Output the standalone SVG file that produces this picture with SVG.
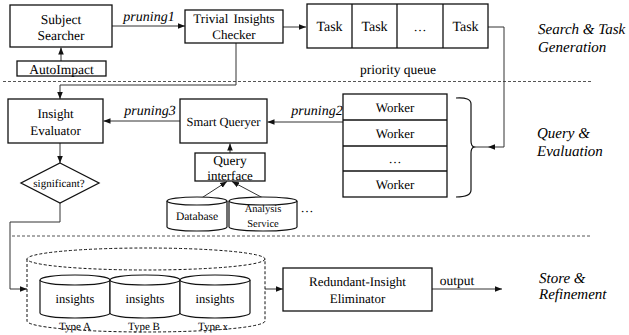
<svg xmlns="http://www.w3.org/2000/svg" width="629" height="335" viewBox="0 0 629 335" text-rendering="geometricPrecision">
<style>
text{font-family:"Liberation Serif",serif;fill:#000;text-anchor:middle;text-rendering:geometricPrecision}
.box{fill:#fff;stroke:#111;stroke-width:1.3}
.cyl{fill:#fff;stroke:#111;stroke-width:1.2}
.dcyl{fill:#fff;stroke:#111;stroke-width:1;stroke-dasharray:3,2}
.ln{fill:none;stroke:#333;stroke-width:1}
.sep{stroke:#555;stroke-width:1;stroke-dasharray:3,2}
.it{font-style:italic}
.lab{font-style:italic;font-size:15px;text-anchor:start}
</style>
<defs>
<marker id="ah" viewBox="0 0 10 10" refX="10" refY="5" markerWidth="7" markerHeight="7" orient="auto" markerUnits="userSpaceOnUse"><path d="M0,1 L10,5 L0,9 z" fill="#111"/></marker>
</defs>
<rect width="629" height="335" fill="#fff"/>

<line class="sep" x1="3" y1="81.5" x2="591" y2="81.5"/>
<line class="sep" x1="12" y1="236" x2="592" y2="236"/>

<g id="connectors">
<line class="ln" x1="61" y1="61" x2="61" y2="47.5" marker-end="url(#ah)"/>
<line class="ln" x1="112" y1="26" x2="185" y2="26" marker-end="url(#ah)"/>
<line class="ln" x1="283" y1="27" x2="306" y2="27" marker-end="url(#ah)"/>
<path class="ln" d="M488,27 H504 V147 H488" marker-end="url(#ah)"/>
<line class="ln" x1="488" y1="147" x2="474" y2="147"/>
<path class="ln" d="M236,43 V85 H60 V99" marker-end="url(#ah)"/>
<line class="ln" x1="180" y1="121" x2="103.5" y2="121" marker-end="url(#ah)"/>
<line class="ln" x1="343" y1="122" x2="267.5" y2="122" marker-end="url(#ah)"/>
<line class="ln" x1="230" y1="153" x2="230" y2="143.5" marker-end="url(#ah)"/>
<line class="ln" x1="200" y1="199" x2="227" y2="181.5" marker-end="url(#ah)"/>
<line class="ln" x1="263" y1="198" x2="232" y2="181.5" marker-end="url(#ah)"/>
<line class="ln" x1="60" y1="143" x2="60" y2="163" marker-end="url(#ah)"/>
<path class="ln" d="M60,203 V222 H10 V289 H27" marker-end="url(#ah)"/>
<line class="ln" x1="265" y1="289" x2="283" y2="289" marker-end="url(#ah)"/>
<line class="ln" x1="432" y1="289" x2="502" y2="289" marker-end="url(#ah)"/>
<text x="149" y="21" class="it" font-size="14">pruning1</text>
<text x="150" y="115" class="it" font-size="14">pruning3</text>
<text x="317" y="115" class="it" font-size="14">pruning2</text>
<text x="457" y="285" font-size="13.5">output</text>
</g>

<g id="subject-searcher">
<rect class="box" x="10" y="5" width="102" height="42"/>
<text x="61" y="23.5" font-size="13.5">Subject</text>
<text x="61" y="39.5" font-size="13.5">Searcher</text>
</g>
<g id="autoimpact">
<rect class="box" x="17" y="61" width="89" height="15"/>
<text x="61.5" y="73.5" font-size="13.5">AutoImpact</text>
</g>
<g id="trivial-checker">
<rect class="box" x="185" y="10" width="98" height="33"/>
<text x="234" y="23" font-size="13" word-spacing="2">Trivial Insights</text>
<text x="234" y="39" font-size="13">Checker</text>
</g>
<g id="priority-queue">
<rect class="box" x="307" y="4" width="181" height="44"/>
<line stroke="#111" stroke-width="1.3" x1="352" y1="4" x2="352" y2="48"/>
<line stroke="#111" stroke-width="1.3" x1="397" y1="4" x2="397" y2="48"/>
<line stroke="#111" stroke-width="1.3" x1="443" y1="4" x2="443" y2="48"/>
<text x="329.5" y="31" font-size="14">Task</text>
<text x="374.5" y="31" font-size="14">Task</text>
<text x="420" y="31" font-size="13" fill="#444">…</text>
<text x="465.5" y="31" font-size="14">Task</text>
<text x="398" y="74" font-size="13.5">priority queue</text>
</g>

<g id="insight-evaluator">
<rect class="box" x="8" y="99" width="95" height="44"/>
<text x="55.5" y="118" font-size="13">Insight</text>
<text x="55.5" y="134.5" font-size="13">Evaluator</text>
</g>
<g id="smart-queryer">
<rect class="box" x="180" y="99" width="87" height="44"/>
<text x="223.5" y="126" font-size="12.5">Smart Queryer</text>
</g>
<g id="workers">
<rect class="box" x="343" y="94" width="104" height="103"/>
<line stroke="#111" stroke-width="1.3" x1="343" y1="120" x2="447" y2="120"/>
<line stroke="#111" stroke-width="1.3" x1="343" y1="146" x2="447" y2="146"/>
<line stroke="#111" stroke-width="1.3" x1="343" y1="171" x2="447" y2="171"/>
<text x="395" y="111.5" font-size="13">Worker</text>
<text x="395" y="137.5" font-size="13">Worker</text>
<text x="395" y="163" font-size="13">…</text>
<text x="395" y="188.5" font-size="13">Worker</text>
<path fill="none" stroke="#111" stroke-width="1.2" d="M456,98 Q471,97 471,104 V141 Q471,146 474,147 Q471,148 471,153 V190 Q471,197 456,197"/>
</g>
<g id="query-interface">
<rect class="box" x="195" y="153" width="70" height="28"/>
<text x="230" y="165" font-size="13.5">Query</text>
<text x="230" y="179.5" font-size="13">interface</text>
</g>
<g id="database">
<path class="cyl" d="M167,201 V227 A30,4 0 0 0 227,227 V201"/>
<ellipse class="cyl" cx="197" cy="201" rx="30" ry="4"/>
<text x="197" y="220" font-size="11.5">Database</text>
</g>
<g id="analysis-service">
<path class="cyl" d="M229,201 V227 A34,4 0 0 0 297,227 V201"/>
<ellipse class="cyl" cx="263" cy="201" rx="34" ry="4"/>
<text x="263" y="212" font-size="10.5">Analysis</text>
<text x="263" y="226.5" font-size="10.5">Service</text>
</g>
<text x="307" y="212" font-size="13">…</text>
<g id="significant">
<polygon class="box" stroke-width="1.1" points="60,163 99,183 60,203 21,183"/>
<text x="59" y="187" font-size="11">significant?</text>
</g>

<g id="insights-store">
<path class="dcyl" d="M27,259 V321 A119,11 0 0 0 265,321 V259"/>
<ellipse class="dcyl" cx="146" cy="259" rx="119" ry="11"/>
<g id="insights-a">
<path class="cyl" d="M40,280 V313 A35,5 0 0 0 110,313 V280"/>
<ellipse class="cyl" cx="75" cy="280" rx="35" ry="5"/>
<text x="75" y="303" font-size="12.5">insights</text>
<text x="75" y="330" font-size="11">Type A</text>
</g>
<g id="insights-b">
<path class="cyl" d="M110,280 V313 A35,5 0 0 0 180,313 V280"/>
<ellipse class="cyl" cx="145" cy="280" rx="35" ry="5"/>
<text x="145" y="303" font-size="12.5">insights</text>
<text x="144" y="330" font-size="11">Type B</text>
</g>
<g id="insights-x">
<path class="cyl" d="M180,280 V313 A35,5 0 0 0 250,313 V280"/>
<ellipse class="cyl" cx="215" cy="280" rx="35" ry="5"/>
<text x="215" y="303" font-size="12.5">insights</text>
<text x="213" y="330" font-size="11">Type x</text>
</g>
</g>
<g id="redundant-eliminator">
<rect class="box" x="283" y="268" width="149" height="43"/>
<text x="357.5" y="286" font-size="13">Redundant-Insight</text>
<text x="357.5" y="303" font-size="13">Eliminator</text>
</g>

<g id="stage-labels">
<text class="lab" x="538" y="34">Search &amp; Task</text>
<text class="lab" x="538" y="52">Generation</text>
<text class="lab" x="537" y="138">Query &amp;</text>
<text class="lab" x="537" y="156">Evaluation</text>
<text class="lab" x="539" y="283">Store &amp;</text>
<text class="lab" x="539" y="299">Refinement</text>
</g>
</svg>
